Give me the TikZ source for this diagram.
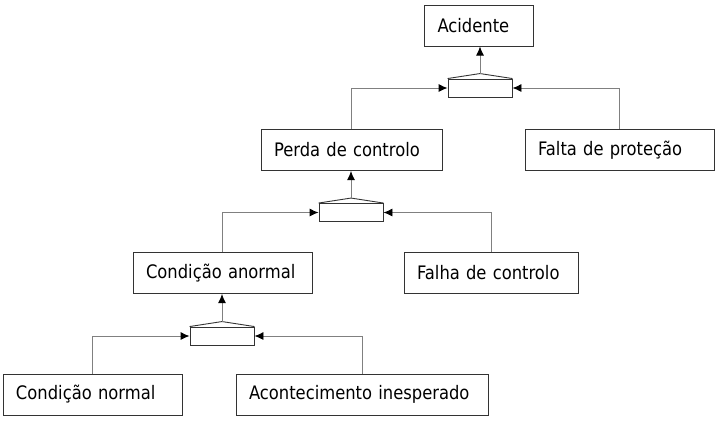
\documentclass[tikz,border=0pt]{standalone}
\usepackage{fontspec}
\setmainfont{DejaVu Sans}[FakeStretch=0.88]
\usepackage{tikz}
\usetikzlibrary{arrows.meta, positioning}

\definecolor{borda}{gray}{0.2}
\definecolor{linha}{gray}{0.5}

\tikzset{
    caixa/.style={draw=borda, line width=1pt, align=left, inner xsep=13pt,
        inner ysep=0pt, minimum height=41pt,
        font=\fontsize{18.6}{20}\selectfont},
    porta/.style={draw=borda, line width=0.9pt, minimum width=64pt,
        minimum height=18pt, inner sep=0pt},
    liga/.style={draw=linha, line width=0.9pt,
        -{Latex[black, length=9pt, width=8pt]}}
}

\begin{document}
\begin{tikzpicture}[x=1pt, y=-1pt]

    \useasboundingbox (0,0) rectangle (719,421);

    % Caixas dos acontecimentos
    \node[caixa, text width=83pt] (acidente) at (479,25.5) {Acidente};
    \node[caixa, text width=155pt] (perda) at (351.5,150) {Perda de controlo};
    \node[caixa, text width=163pt] (falta) at (619.5,150) {Falta de proteção};
    \node[caixa, text width=153pt] (anormal) at (222.5,273) {Condição anormal};
    \node[caixa, text width=148pt] (falha) at (491,273) {Falha de controlo};
    \node[caixa, text width=153pt] (normal) at (92.5,394.5) {Condição normal};
    \node[caixa, text width=226pt] (inesperado) at (362,394.5) {Acontecimento inesperado};

    % Portas E
    \node[porta] (g1) at (480,88) {};
    \node[porta] (g2) at (351,212.5) {};
    \node[porta] (g3) at (222,336) {};

    % Telhados das portas
    \foreach \g in {g1, g2, g3} {
        \coordinate (\g topo) at ([yshift=5pt]\g.north);
        \draw[draw=borda, line width=0.9pt] (\g.north west) -- (\g topo) -- (\g.north east);
    }

    % Ligações para cima
    \draw[liga] (g1topo) -- (g1topo |- acidente.south);
    \draw[liga] (g2topo) -- (g2topo |- perda.south);
    \draw[liga] (g3topo) -- (g3topo |- anormal.south);

    % Entradas das portas
    \draw[liga] (perda.north) |- (g1.west);
    \draw[liga] (falta.north) |- (g1.east);
    \draw[liga] (anormal.north) |- (g2.west);
    \draw[liga] (falha.north) |- (g2.east);
    \draw[liga] (normal.north) |- (g3.west);
    \draw[liga] (inesperado.north) |- (g3.east);

\end{tikzpicture}
\end{document}
